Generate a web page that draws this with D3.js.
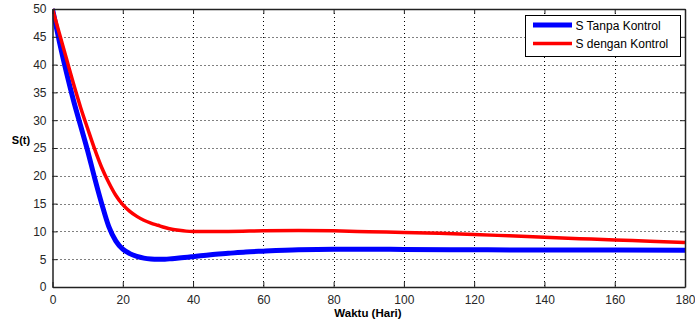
<!DOCTYPE html>
<html><head><meta charset="utf-8">
<script src="https://cdn.jsdelivr.net/npm/d3@7"></script>
<style>body{margin:0;background:#fff}svg{display:block}</style>
</head><body>
<script>
const xTicks = [0,20,40,60,80,100,120,140,160,180];
const yTicks = [0,5,10,15,20,25,30,35,40,45,50];
const seriesNames = ["S Tanpa Kontrol","S dengan Kontrol"];
const tBlue = [0,2,4,6,8,10,12,14,16,18,20,22,24,26,28,30,32,34,36,40,45,50,55,60,70,80,90,100,120,140,160,180];
const sBlue = [50,44,38.5,33.5,29,24.5,19.6,15,10.9,8.3,6.8,6.0,5.5,5.2,5.05,5.0,5.0,5.1,5.2,5.45,5.8,6.05,6.3,6.45,6.7,6.8,6.8,6.75,6.7,6.65,6.65,6.6];
const tRed = [0,2,4,6,8,10,12,14,16,18,20,22,24,26,28,30,32,34,36,38,40,50,60,70,80,90,100,110,120,130,140,150,160,170,180];
const sRed = [50,45.5,41,36.5,32.3,28.5,24.8,21.5,18.8,16.5,14.8,13.6,12.7,12.0,11.5,11.1,10.7,10.4,10.2,10.05,10.0,10.0,10.1,10.15,10.1,9.95,9.8,9.65,9.45,9.2,8.95,8.7,8.45,8.25,8.0];

const W=695,H=326;
const m={l:52.5,r:685,t:9,b:287};
const svg=d3.select("body").append("svg").attr("width",W).attr("height",H);
const x=d3.scaleLinear().domain([0,180]).range([m.l,m.r]);
const y=d3.scaleLinear().domain([0,50]).range([m.b,m.t]);
const font="'Liberation Sans', Arial, sans-serif";

// grid
const g=svg.append("g");
g.selectAll(".gx").data(xTicks.slice(1,-1)).join("line")
 .attr("x1",d=>Math.round(x(d))+0.5).attr("x2",d=>Math.round(x(d))+0.5)
 .attr("y1",m.t).attr("y2",m.b).attr("stroke","#000").attr("stroke-width",1).attr("stroke-dasharray","1,3");
g.selectAll(".gy").data(yTicks.slice(1,-1)).join("line")
 .attr("y1",d=>Math.round(y(d))+0.5).attr("y2",d=>Math.round(y(d))+0.5)
 .attr("x1",m.l).attr("x2",m.r).attr("stroke","#000").attr("stroke-width",1).attr("stroke-dasharray","1,3");

// lines
svg.append("clipPath").attr("id","c").append("rect").attr("x",m.l).attr("y",m.t-3).attr("width",m.r-m.l).attr("height",m.b-m.t+3);
const line=d3.line().x(d=>x(d[0])).y(d=>y(d[1])).curve(d3.curveMonotoneX);
svg.append("path").datum(tBlue.map((t,i)=>[t,sBlue[i]])).attr("d",line)
 .attr("fill","none").attr("stroke","#0000ff").attr("stroke-width",5).attr("clip-path","url(#c)");
svg.append("path").datum(tRed.map((t,i)=>[t,sRed[i]])).attr("d",line)
 .attr("fill","none").attr("stroke","#ff0000").attr("stroke-width",3.5).attr("clip-path","url(#c)");

// axes
const ax=svg.append("g").attr("transform",`translate(0,${m.b})`)
 .call(d3.axisBottom(x).tickValues(xTicks).tickSizeInner(-5).tickSizeOuter(0).tickPadding(8));
const ay=svg.append("g").attr("transform",`translate(${m.l},0)`)
 .call(d3.axisLeft(y).tickValues(yTicks).tickSizeInner(-5).tickSizeOuter(0).tickPadding(6));
const axT=svg.append("g").attr("transform",`translate(0,${m.t})`)
 .call(d3.axisTop(x).tickValues(xTicks).tickSizeInner(-5).tickSizeOuter(0).tickFormat(""));
const ayR=svg.append("g").attr("transform",`translate(${m.r},0)`)
 .call(d3.axisRight(y).tickValues(yTicks).tickSizeInner(-5).tickSizeOuter(0).tickFormat(""));
[ax,ay,axT,ayR].forEach(a=>{
 a.selectAll("path").attr("stroke","#222").attr("stroke-width",1.5);
 a.selectAll("line").attr("stroke","#222");
 a.selectAll("text").attr("font-family",font).attr("font-size",12).attr("fill","#262626");
});

// labels
svg.append("text").attr("x",368).attr("y",317).attr("text-anchor","middle")
 .attr("font-family",font).attr("font-size",11.5).attr("font-weight","bold").text("Waktu (Hari)");
svg.append("text").attr("x",21).attr("y",144).attr("text-anchor","middle")
 .attr("font-family",font).attr("font-size",11).attr("font-weight","bold").text("S(t)");

// legend
const lg=svg.append("g");
lg.append("rect").attr("x",525.5).attr("y",15.5).attr("width",155).attr("height",41)
 .attr("fill","#fff").attr("stroke","#000").attr("stroke-width",1);
const cols=["#0000ff","#ff0000"], lw=[5,3.5], ly=[25,43.5];
seriesNames.forEach((n,i)=>{
 lg.append("line").attr("x1",533).attr("x2",572).attr("y1",ly[i]).attr("y2",ly[i])
  .attr("stroke",cols[i]).attr("stroke-width",lw[i]);
 lg.append("text").attr("x",575.5).attr("y",ly[i]+4.5).attr("font-family",font).attr("font-size",12)
  .attr("fill","#000").text(n);
});
</script>
</body></html>
